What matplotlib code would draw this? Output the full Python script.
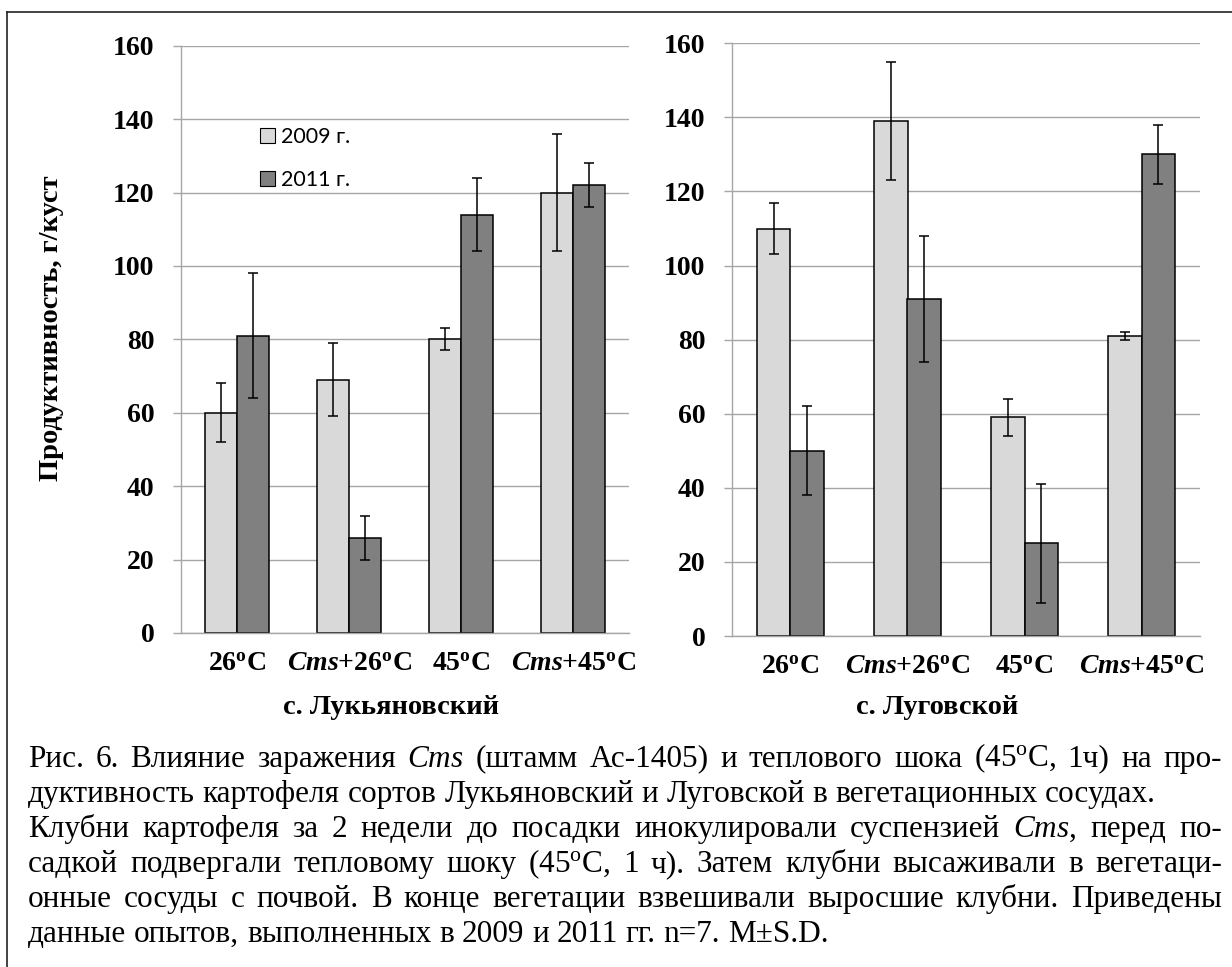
import matplotlib
matplotlib.use('Agg')
import matplotlib.pyplot as plt
import numpy as np
from matplotlib.patches import Patch
from matplotlib.lines import Line2D

plt.rcParams['font.family'] = ['Liberation Serif', 'DejaVu Serif']
plt.rcParams['mathtext.fontset'] = 'custom'
plt.rcParams['mathtext.rm'] = 'Liberation Serif'
plt.rcParams['mathtext.it'] = 'Liberation Serif:italic'
plt.rcParams['mathtext.bf'] = 'Liberation Serif:bold'
plt.rcParams['mathtext.bfit'] = 'Liberation Serif:italic:bold'

# ---------------- data ----------------
categories = ["26$^{\\mathbf{o}}$C",
              "$\\mathbfit{Cms}$+26$^{\\mathbf{o}}$C",
              "45$^{\\mathbf{o}}$C",
              "$\\mathbfit{Cms}$+45$^{\\mathbf{o}}$C"]
series_names = ["2009 г.", "2011 г."]

luk_2009 = [60, 69, 80, 120]
luk_2009_sd = [8, 10, 3, 16]
luk_2011 = [81, 26, 114, 122]
luk_2011_sd = [17, 6, 10, 6]

lug_2009 = [110, 139, 59, 81]
lug_2009_sd = [7, 16, 5, 1]
lug_2011 = [50, 91, 25, 130]
lug_2011_sd = [12, 17, 16, 8]

y_ticks = [0, 20, 40, 60, 80, 100, 120, 140, 160]
group_titles = ["с. Лукьяновский", "с. Луговской"]
y_label = "Продуктивность, г/куст"

caption_lines = [
    "Рис. 6. Влияние заражения $\\mathit{Cms}$ (штамм Ас-1405) и теплового шока (45$^{\\mathrm{o}}$C, 1ч) на про-",
    "дуктивность картофеля сортов Лукьяновский и Луговской в вегетационных сосудах.",
    "Клубни картофеля за 2 недели до посадки инокулировали суспензией $\\mathit{Cms}$, перед по-",
    "садкой подвергали тепловому шоку (45$^{\\mathrm{o}}$C, 1 ч). Затем клубни высаживали в вегетаци-",
    "онные сосуды с почвой. В конце вегетации взвешивали выросшие клубни. Приведены",
    "данные опытов, выполненных в 2009 и 2011 гг. n=7. M±S.D.",
]
justified = [True, False, True, True, True, False]

# ---------------- style ----------------
W, H = 1232, 967
c_light = '#d9d9d9'
c_dark = '#808080'
grid_c = '#a6a6a6'
bar_w = 0.285
cap_fs = 22.5

fig = plt.figure(figsize=(W / 100, H / 100), dpi=100)

def px_axes(x0, y0, x1, y1):
    return fig.add_axes([x0 / W, 1 - y1 / H, (x1 - x0) / W, (y1 - y0) / H])

ax1 = px_axes(181, 45.7, 629, 633)
ax2 = px_axes(732, 43.3, 1200, 636)

def draw_panel(ax, v09, s09, v11, s11):
    x = np.arange(len(categories))
    ax.set_axisbelow(True)
    ax.bar(x - bar_w / 2, v09, bar_w, color=c_light, edgecolor='black', linewidth=1.1, zorder=2)
    ax.bar(x + bar_w / 2, v11, bar_w, color=c_dark, edgecolor='black', linewidth=1.1, zorder=2)
    ax.errorbar(x - bar_w / 2, v09, yerr=s09, fmt='none', ecolor='black',
                elinewidth=1.1, capsize=3.8, capthick=1.1, zorder=3)
    ax.errorbar(x + bar_w / 2, v11, yerr=s11, fmt='none', ecolor='black',
                elinewidth=1.1, capsize=3.8, capthick=1.1, zorder=3)
    ax.set_xlim(-0.5, len(categories) - 0.5)
    ax.set_ylim(0, 160)
    ax.set_yticks(y_ticks)
    ax.set_yticklabels([str(t) for t in y_ticks], fontsize=20, fontweight='bold')
    ax.set_xticks(x)
    ax.set_xticklabels(categories, fontsize=20, fontweight='bold')
    ax.yaxis.grid(True, color=grid_c, linewidth=1.0)
    ax.tick_params(axis='y', length=6, width=1.0, color=grid_c, pad=13)
    ax.tick_params(axis='x', length=0, pad=14)
    for s in ['top', 'right']:
        ax.spines[s].set_visible(False)
    for s in ['left', 'bottom']:
        ax.spines[s].set_color(grid_c)
        ax.spines[s].set_linewidth(1.0)

draw_panel(ax1, luk_2009, luk_2009_sd, luk_2011, luk_2011_sd)
draw_panel(ax2, lug_2009, lug_2009_sd, lug_2011, lug_2011_sd)

handles = [Patch(facecolor=c_light, edgecolor='black', linewidth=0.8),
           Patch(facecolor=c_dark, edgecolor='black', linewidth=0.8)]
ax1.legend(handles, series_names, loc='center left', bbox_to_anchor=(0.132, 0.808),
           frameon=False, prop={'family': 'Lato', 'size': 15.5},
           handlelength=0.7, handleheight=0.7, handletextpad=0.3, labelspacing=1.05)

# y label and group titles
fig.text(52 / W, 1 - 328 / H, y_label, rotation=90, ha='center', va='center',
         fontsize=20.5, fontweight='bold')
fig.text(391 / W, 1 - 707 / H, group_titles[0], ha='center', va='center',
         fontsize=20.5, fontweight='bold')
fig.text(937 / W, 1 - 707 / H, group_titles[1], ha='center', va='center',
         fontsize=20.5, fontweight='bold')

# border
fig.add_artist(Line2D([7 / W, 1.0], [1 - 12 / H, 1 - 12 / H], transform=fig.transFigure,
                      color='#222222', linewidth=1.2))
fig.add_artist(Line2D([7 / W, 7 / W], [1 - 12 / H, 0.0], transform=fig.transFigure,
                      color='#222222', linewidth=1.2))

# caption (justified)
fig.canvas.draw()
renderer = fig.canvas.get_renderer()
cx0, cx1 = 28, 1222
base0, dy = 766.7, 35.1
space_px = 0.25 * cap_fs * 100 / 72
for i, line in enumerate(caption_lines):
    words = line.split(' ')
    ybase = 1 - (base0 + i * dy) / H
    texts = [fig.text(0, ybase, w, fontsize=cap_fs, ha='left', va='baseline') for w in words]
    widths = [t.get_window_extent(renderer).width for t in texts]
    if justified[i] and len(words) > 1:
        gap = (cx1 - cx0 - sum(widths)) / (len(words) - 1)
    else:
        gap = space_px
    xpos = cx0
    for t, w in zip(texts, widths):
        t.set_x(xpos / W)
        xpos += w + gap

fig.savefig('out.png', dpi=100)
